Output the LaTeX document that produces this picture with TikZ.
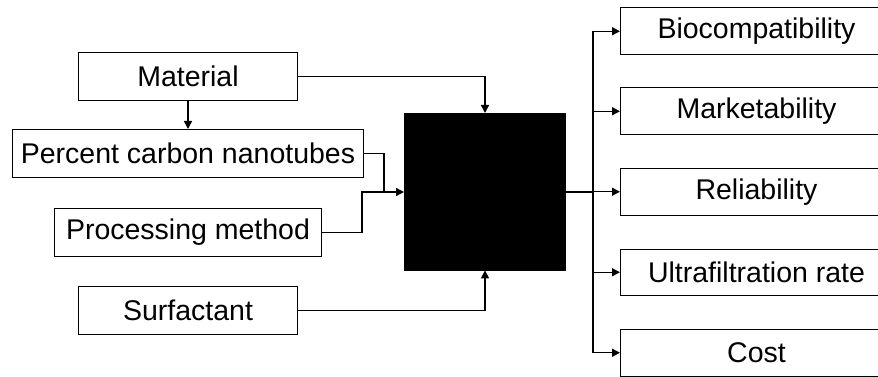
\documentclass[tikz,border=0pt]{standalone}
\usepackage{fontspec}
\setmainfont{Liberation Sans}
\usetikzlibrary{arrows.meta}
\begin{document}
\begin{tikzpicture}[x=1pt,y=-1pt,
  box/.style={draw, line width=1pt, minimum height=48pt, inner sep=0pt, font=\fontsize{28.5}{31}\selectfont, anchor=north west},
  lbl/.style={font=\fontsize{28.5}{31}\selectfont, inner sep=0pt},
  blk/.style={fill=black, draw=black, inner sep=0pt, anchor=north west},
  conn/.style={line width=1.4pt, -{Triangle[length=8pt,width=8pt]}},
  plain/.style={line width=1.4pt}]
\useasboundingbox (0,0) rectangle (878,377);
\clip (0,0) rectangle (878,377);
\node[box, minimum width=219pt] (mat) at (78,52) {Material};
\node[box, minimum width=351pt] (pct) at (12,129) {Percent carbon nanotubes};
\node[box, minimum width=267pt] (proc) at (54,208) {Processing method};
\node[box, minimum width=219pt] (surf) at (78,286) {Surfactant};
\node[blk, minimum width=161pt, minimum height=157pt] (bb) at (404,113) {};
\foreach \n/\y/\t in {bio/7.5/Biocompatibility, mkt/87.5/Marketability, rel/168/Reliability, ultra/248.5/Ultrafiltration rate, cost/329/Cost}{
  \node[box, minimum width=270pt, minimum height=46.5pt, text width=0pt] (\n) at (620,\y) {};
  \node[lbl] at (\n.center) [xshift=1pt] {\t};
}
\coordinate (bus) at (593,192);
\coordinate (j1) at (384,192);
\coordinate (j2) at (362,192);
% inputs
\draw[conn] (mat.south -| 188,0) -- (pct.north -| 188,0);
\draw[conn] (mat.east) -| (bb.north -| 485,0);
\draw[conn] (surf.east) -| (bb.south -| 485,0);
\draw[plain] (pct.east) -| (j1);
\draw[conn] (proc.east) -| (j2) -- (bb.west |- j2);
% outputs
\draw[plain] (bb.east |- bus) -- (bus);
\draw[plain] (bus |- bio.west) -- (bus |- cost.west);
\foreach \n in {bio,mkt,rel,ultra,cost}{
  \draw[conn] (bus |- \n.west) -- (\n.west);
}
\end{tikzpicture}
\end{document}
